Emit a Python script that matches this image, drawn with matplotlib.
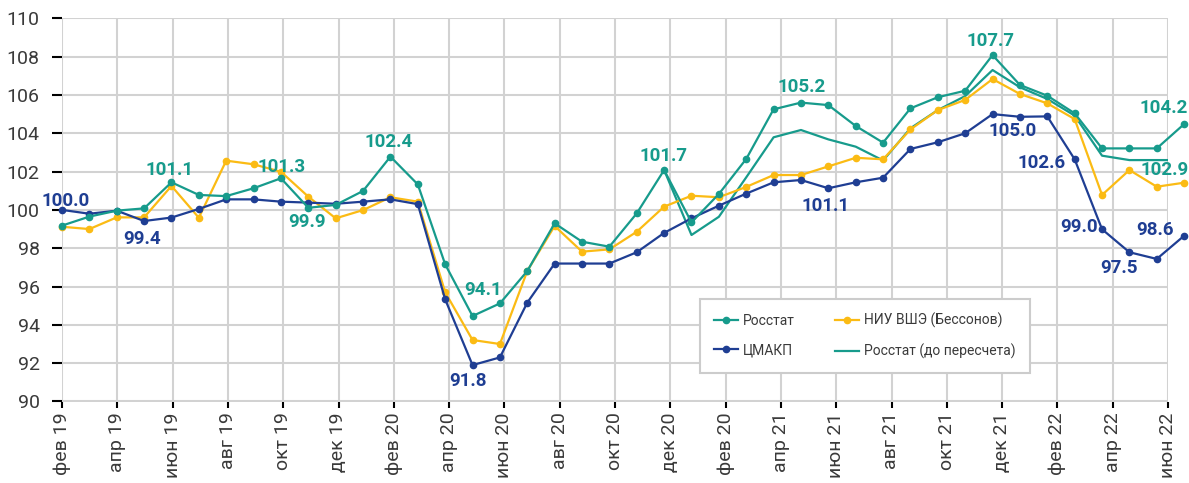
import matplotlib
matplotlib.use('Agg')
import matplotlib.pyplot as plt
import numpy as np

plt.rcParams['font.family'] = ['Roboto', 'DejaVu Sans']

# monthly index, фев 19 .. июл 22
rosstat = [99.18, 99.65, 99.96, 100.08, 101.44, 100.78, 100.72, 101.13, 101.65, 100.11,
           100.26, 100.99, 102.78, 101.33, 97.16, 94.46, 95.12, 96.81, 99.3, 98.34,
           98.08, 99.82, 102.08, 99.35, 100.83, 102.66, 105.25, 105.6, 105.47, 104.38,
           103.51, 105.3, 105.88, 106.22, 108.08, 106.52, 105.96, 105.04, 103.21, 103.21,
           103.21, 104.48]
tsmakp = [100.0, 99.8, 99.96, 99.42, 99.6, 100.05, 100.55, 100.55, 100.43, 100.38,
          100.32, 100.43, 100.55, 100.3, 95.33, 91.9, 92.3, 95.16, 97.2, 97.2,
          97.2, 97.79, 98.8, 99.56, 100.22, 100.85, 101.44, 101.56, 101.13, 101.44,
          101.68, 103.18, 103.53, 104.0, 105.0, 104.86, 104.88, 102.64, 98.99, 97.79,
          97.44, 98.65]
hse = [99.12, 99.0, 99.61, 99.61, 101.25, 99.59, 102.57, 102.38, 101.99, 100.69,
       99.56, 99.99, 100.66, 100.43, 95.7, 93.21, 93.0, 96.81, 99.16, 97.82,
       97.94, 98.86, 100.17, 100.74, 100.66, 101.2, 101.82, 101.82, 102.27, 102.72,
       102.64, 104.2, 105.21, 105.74, 106.83, 106.05, 105.56, 104.74, 100.78, 102.08,
       101.21, 101.42]
before_recount = [None] * 22 + [102.08, 98.69, 99.64, 101.7, 103.79, 104.17, 103.68, 103.3,
                                102.58, 104.26, 105.21, 105.94, 107.3, 106.4, 105.79, 104.92,
                                102.83, 102.6, 102.6, 102.6]

tick_labels = ['фев 19', 'апр 19', 'июн 19', 'авг 19', 'окт 19', 'дек 19', 'фев 20',
               'апр 20', 'июн 20', 'авг 20', 'окт 20', 'дек 20', 'фев 20', 'апр 21',
               'июн 21', 'авг 21', 'окт 21', 'дек 21', 'фев 22', 'апр 22', 'июн 22']

# value labels: (text, index of point)
teal_labels = [('101.1', 4), ('101.3', 8), ('99.9', 9), ('102.4', 12), ('94.1', 15),
               ('101.7', 22), ('105.2', 27), ('107.7', 34), ('104.2', 41)]
blue_labels = [('100.0', 0), ('99.4', 3), ('91.8', 15), ('101.1', 28), ('105.0', 34),
               ('102.6', 37), ('99.0', 38), ('97.5', 39), ('98.6', 41)]
teal_offsets = [(-1.4, 8.6), (0.5, 8.1), (-0.6, -10), (-1.4, 10.2), (7.7, 19),
                (-0.8, 10.2), (0.7, 11.5), (-1.2, 10.2), (-15, 11.7)]
blue_offsets = [(2.5, 6.7), (-1.2, -12.6), (-3.1, -11.4), (-2, -12.7), (14.7, -12.2),
                (-23.5, -3), (-16.6, 1.3), (-7.5, -11), (-20.7, 4)]

teal = '#179b8c'
blue = '#1f3e93'
yellow = '#fbbb14'
text_col = '#3a3a3a'

fig = plt.figure(figsize=(11.89, 4.83), dpi=100)
ax = fig.add_axes([62 / 1189, 1 - 401.5 / 483, (1168 - 62) / 1189, (401.5 - 18.3) / 483])

x = np.arange(len(rosstat))
before = np.array(before_recount, dtype=float)

ax.plot(x, before, color=teal, lw=1.6, zorder=3, label='Росстат (до пересчета)')
ax.plot(x, hse, color=yellow, lw=1.6, marker='o', ms=4.5, clip_on=False, zorder=4,
        label='НИУ ВШЭ (Бессонов)')
ax.plot(x, tsmakp, color=blue, lw=1.6, marker='o', ms=4.5, clip_on=False, zorder=5,
        label='ЦМАКП')
ax.plot(x, rosstat, color=teal, lw=1.6, marker='o', ms=4.5, clip_on=False, zorder=6,
        label='Росстат')

for (txt, i), (dx, dy) in zip(teal_labels, teal_offsets):
    ax.annotate(txt, xy=(i, rosstat[i]), xytext=(dx, dy), textcoords='offset points',
                ha='center', va='center', color=teal, fontsize=13.5, fontweight='bold',
                annotation_clip=False, zorder=8)
ax.annotate('102.9', xy=(40, before[40]), xytext=(5.5, -7.2), textcoords='offset points',
            ha='center', va='center', color=teal, fontsize=13.5, fontweight='bold',
            annotation_clip=False, zorder=8)
for (txt, i), (dx, dy) in zip(blue_labels, blue_offsets):
    ax.annotate(txt, xy=(i, tsmakp[i]), xytext=(dx, dy), textcoords='offset points',
                ha='center', va='center', color=blue, fontsize=13.5, fontweight='bold',
                annotation_clip=False, zorder=8)

ax.set_xlim(0, 40.41)
ax.set_ylim(90, 110)
ax.set_yticks(np.arange(90, 111, 2))
ax.set_xticks(np.linspace(0, 40.41, len(tick_labels)))
ax.set_xticklabels(tick_labels, rotation=90)

ax.grid(True, color='#d2d2d2', lw=1.5)
ax.set_axisbelow(True)
for s in ax.spines.values():
    s.set_visible(False)
ax.tick_params(axis='y', length=7, width=1.5, color='black', pad=9,
               labelsize=14, labelcolor=text_col)
ax.tick_params(axis='x', length=4, width=1.5, color='black', pad=4,
               labelsize=14, labelcolor=text_col)

h, l = ax.get_legend_handles_labels()
order = [3, 2, 1, 0]
leg = ax.legend([h[k] for k in order], [l[k] for k in order], ncol=2,
                loc='upper left', bbox_to_anchor=(700 / 1189, 1 - 299 / 483),
                bbox_transform=fig.transFigure, borderaxespad=0, fontsize=10,
                handlelength=1.7, handletextpad=0.4, columnspacing=2.9,
                labelspacing=1.1, borderpad=1.0, fancybox=False, framealpha=1)
leg.get_frame().set_edgecolor('#cccccc')
leg.get_frame().set_linewidth(1.5)
for t in leg.get_texts():
    t.set_color(text_col)

fig.savefig('out.png', dpi=100)
